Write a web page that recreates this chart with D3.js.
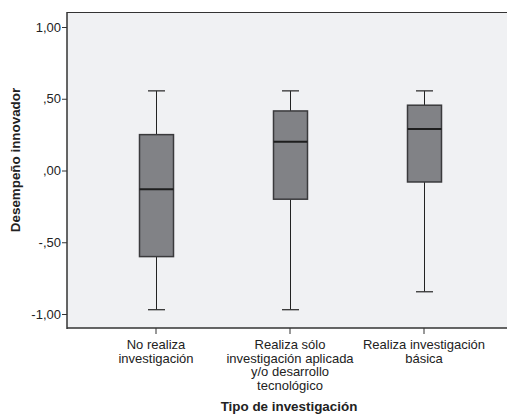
<!DOCTYPE html>
<html>
<head>
<meta charset="utf-8">
<script src="https://cdn.jsdelivr.net/npm/d3@7"></script>
<style>
  html, body { margin: 0; padding: 0; background: #ffffff; }
  svg { display: block; font-family: "Liberation Sans", Arial, sans-serif; }
</style>
</head>
<body>
<svg id="chart" width="507" height="417"></svg>
<script>
// Categories (each label split into lines)
const categories = ["No realiza investigación", "Realiza sólo investigación aplicada y/o desarrollo tecnológico", "Realiza investigación básica"];
const categoryLines = [
  ["No realiza", "investigación"],
  ["Realiza sólo", "investigación aplicada", "y/o desarrollo", "tecnológico"],
  ["Realiza investigación", "básica"]
];
// Five-number summaries per group
const whiskerLow  = [-0.97, -0.97, -0.845];
const quartile1   = [-0.60, -0.20, -0.08];
const median      = [-0.13, 0.20, 0.29];
const quartile3   = [0.25, 0.415, 0.455];
const whiskerHigh = [0.555, 0.555, 0.555];
// Y axis ticks
const tickValues = [-1, -0.5, 0, 0.5, 1];
const tickLabels = ["-1,00", "-,50", ",00", ",50", "1,00"];

const svg = d3.select("#chart");
const plot = { left: 67, top: 12, right: 507, bottom: 328 };

const y = d3.scaleLinear().domain([-1, 1]).range([314, 27]);
const x = d3.scaleBand().domain(categories).range([89, 491]).padding(0);

// Plot background
svg.append("rect")
  .attr("x", plot.left).attr("y", plot.top)
  .attr("width", plot.right - plot.left).attr("height", plot.bottom - plot.top)
  .attr("fill", "#f0f1f3");

// Top border
svg.append("line")
  .attr("x1", plot.left).attr("x2", plot.right)
  .attr("y1", plot.top + 0.5).attr("y2", plot.top + 0.5)
  .attr("stroke", "#333").attr("stroke-width", 1.2);

const data = categories.map((c, i) => ({
  cat: c, lo: whiskerLow[i], q1: quartile1[i], med: median[i], q3: quartile3[i], hi: whiskerHigh[i]
}));

const boxW = 34, capW = 17;
const g = svg.append("g");
data.forEach(d => {
  const cx = Math.round(x(d.cat) + x.bandwidth() / 2) + 0.5;
  // Whiskers
  g.append("line").attr("x1", cx).attr("x2", cx).attr("y1", y(d.hi)).attr("y2", y(d.q3))
    .attr("stroke", "#222").attr("stroke-width", 1);
  g.append("line").attr("x1", cx).attr("x2", cx).attr("y1", y(d.q1)).attr("y2", y(d.lo))
    .attr("stroke", "#222").attr("stroke-width", 1);
  // Caps
  [d.hi, d.lo].forEach(v => {
    g.append("line").attr("x1", cx - capW / 2).attr("x2", cx + capW / 2)
      .attr("y1", y(v)).attr("y2", y(v))
      .attr("stroke", "#333").attr("stroke-width", 1.3);
  });
  // Box
  g.append("rect")
    .attr("x", cx - boxW / 2).attr("y", y(d.q3))
    .attr("width", boxW).attr("height", y(d.q1) - y(d.q3))
    .attr("fill", "#818286").attr("stroke", "#3a3a3c").attr("stroke-width", 1.5);
  // Median
  g.append("line").attr("x1", cx - boxW / 2).attr("x2", cx + boxW / 2)
    .attr("y1", y(d.med)).attr("y2", y(d.med))
    .attr("stroke", "#1e1e1e").attr("stroke-width", 2);
});

// Y axis
const yAxis = d3.axisLeft(y).tickValues(tickValues)
  .tickFormat((d, i) => tickLabels[i]).tickSizeOuter(0).tickSize(5).tickPadding(1);
const yg = svg.append("g").attr("transform", `translate(${plot.left},0)`).call(yAxis);
yg.select(".domain").remove();
yg.selectAll(".tick line").attr("stroke", "#333");
yg.selectAll("text").attr("font-size", 13).attr("fill", "#222")
  .attr("font-family", "Liberation Sans, Arial, sans-serif");
svg.append("line").attr("x1", plot.left).attr("x2", plot.left)
  .attr("y1", plot.top).attr("y2", plot.bottom + 1)
  .attr("stroke", "#333").attr("stroke-width", 1.5);

// X axis
const xAxis = d3.axisBottom(x).tickSize(6).tickSizeOuter(0).tickFormat("");
const xg = svg.append("g").attr("transform", `translate(0,${plot.bottom})`).call(xAxis);
xg.select(".domain").remove();
xg.selectAll(".tick line").attr("stroke", "#333");
svg.append("line").attr("x1", plot.left).attr("x2", plot.right)
  .attr("y1", plot.bottom).attr("y2", plot.bottom)
  .attr("stroke", "#333").attr("stroke-width", 1.5);

// Multi-line category labels
categories.forEach((c, i) => {
  const cx = x(c) + x.bandwidth() / 2;
  const t = svg.append("text").attr("text-anchor", "middle")
    .attr("font-size", 13).attr("fill", "#222");
  categoryLines[i].forEach((line, j) => {
    t.append("tspan").attr("x", cx).attr("y", 349 + j * 13.5).text(line);
  });
});

// Axis titles
svg.append("text").attr("x", 289).attr("y", 411).attr("text-anchor", "middle")
  .attr("font-size", 13.4).attr("font-weight", "bold").attr("fill", "#222")
  .text("Tipo de investigación");
svg.append("text").attr("transform", "translate(20,160) rotate(-90)")
  .attr("text-anchor", "middle").attr("font-size", 13.4).attr("font-weight", "bold").attr("fill", "#222")
  .text("Desempeño innovador");
</script>
</body>
</html>
